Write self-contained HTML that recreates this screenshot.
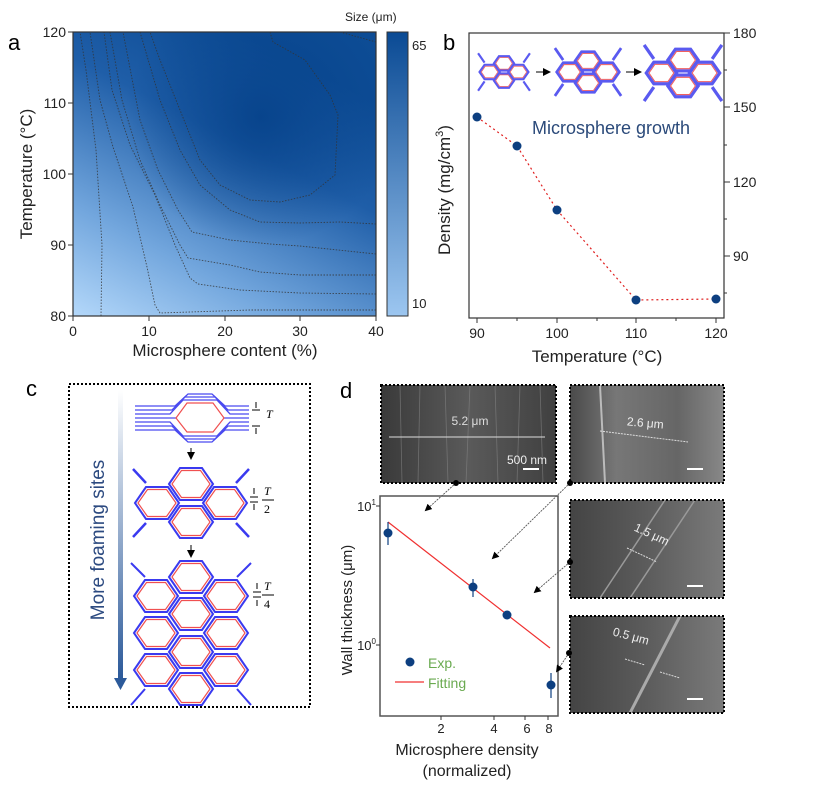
<!DOCTYPE html>
<html><head><meta charset="utf-8"><style>
body{margin:0;background:#fff;}
svg{display:block;font-family:"Liberation Sans",sans-serif;}
</style></head><body>
<svg width="831" height="798" viewBox="0 0 831 798" xmlns="http://www.w3.org/2000/svg">
<defs>
<linearGradient id="bg" x1="0" y1="1" x2="0.55" y2="0">
<stop offset="0" stop-color="#b4d8fa"/><stop offset="0.3" stop-color="#72a6dd"/><stop offset="0.7" stop-color="#1f5ea8"/><stop offset="1" stop-color="#0d4c95"/></linearGradient>
<radialGradient id="dk" cx="0.62" cy="0.3" r="0.45"><stop offset="0" stop-color="#06428a" stop-opacity="0.9"/><stop offset="1" stop-color="#06428a" stop-opacity="0"/></radialGradient>
<linearGradient id="cb" x1="0" y1="1" x2="0" y2="0"><stop offset="0" stop-color="#9cc6f0"/><stop offset="1" stop-color="#0a4a94"/></linearGradient>
<linearGradient id="arr" x1="0" y1="0" x2="0" y2="1"><stop offset="0" stop-color="#fff"/><stop offset="1" stop-color="#2c5a9a"/></linearGradient>
<linearGradient id="sem1" x1="0" y1="0" x2="1" y2="0"><stop offset="0" stop-color="#3a3a3a"/><stop offset="0.5" stop-color="#5a5a5a"/><stop offset="1" stop-color="#404040"/></linearGradient>
<linearGradient id="sem2" x1="0" y1="0" x2="1" y2="0"><stop offset="0" stop-color="#4a4a4a"/><stop offset="0.3" stop-color="#777"/><stop offset="0.7" stop-color="#666"/><stop offset="1" stop-color="#888"/></linearGradient>
<linearGradient id="sem3" x1="0" y1="0" x2="1" y2="0"><stop offset="0" stop-color="#444"/><stop offset="0.5" stop-color="#5c5c5c"/><stop offset="1" stop-color="#7a7a7a"/></linearGradient>
<marker id="ah" markerWidth="8" markerHeight="8" refX="6" refY="4" orient="auto"><path d="M0,0 L8,4 L0,8z" fill="#000"/></marker>
<g id="cell"><path d="M-14,0 L-7,-10 L7,-10 L14,0 L7,10 L-7,10z" fill="none" stroke="#5a5af0" stroke-width="3"/><path d="M-11.5,0 L-6,-8 L6,-8 L11.5,0 L6,8 L-6,8z" fill="none" stroke="#f06060" stroke-width="1"/></g>
<g id="lat"><use href="#cell" x="0" y="-12"/><use href="#cell" x="0" y="12"/><use href="#cell" x="-20" y="0"/><use href="#cell" x="20" y="0"/>
<path d="M-36,-26 L-27,-13 M36,-26 L27,-13 M-36,26 L-27,13 M36,26 L27,13" stroke="#5a5af0" stroke-width="3"/></g>
<g id="cellb"><path d="M-22,0 L-11,-16 L11,-16 L22,0 L11,16 L-11,16z" fill="none" stroke="#3a3af0" stroke-width="2"/><path d="M-19,0 L-9.5,-13.5 L9.5,-13.5 L19,0 L9.5,13.5 L-9.5,13.5z" fill="none" stroke="#f05050" stroke-width="1.2"/></g>
</defs>

<!-- Panel a -->
<text x="8" y="50" font-size="22">a</text>
<rect x="73" y="32" width="303" height="284" fill="url(#bg)"/>
<rect x="73" y="32" width="303" height="284" fill="url(#dk)"/>
<g fill="none" stroke="#333" stroke-width="0.9" stroke-dasharray="1.5,1.5" opacity="0.8">
<path d="M101,316 L102,245 L96,150 L86,70 L80,32"/>
<path d="M376,310 L250,310 L160,313 L155,305 L147,267 L133,207 L113,147 L100,100 L90,32"/>
<path d="M376,294 L300,293 L240,290 L198,284 L190,278 L175,245 L155,195 L130,145 L112,90 L104,32"/>
<path d="M376,275 L300,275 L260,272 L230,265 L188,258 L180,245 L160,205 L140,160 L122,100 L110,32"/>
<path d="M376,254 L300,246 L270,244 L230,240 L192,232 L178,210 L158,170 L140,120 L123,32"/>
<path d="M376,224 L340,222 L300,223 L260,222 L230,210 L200,185 L180,150 L160,100 L140,32"/>
<path d="M270,32 L273,42 L305,60 L330,95 L338,115 L335,175 L310,195 L280,202 L250,200 L220,185 L200,160 L180,110 L160,60 L150,32"/>
<path d="M340,32 L376,42"/>
</g>
<rect x="73" y="32" width="303" height="284" fill="none" stroke="#333" stroke-width="1.2"/>
<g stroke="#333" stroke-width="1">
<line x1="73" y1="316" x2="73" y2="321"/><line x1="149" y1="316" x2="149" y2="321"/><line x1="225" y1="316" x2="225" y2="321"/><line x1="300" y1="316" x2="300" y2="321"/><line x1="376" y1="316" x2="376" y2="321"/>
<line x1="68" y1="32" x2="73" y2="32"/><line x1="68" y1="103" x2="73" y2="103"/><line x1="68" y1="174" x2="73" y2="174"/><line x1="68" y1="245" x2="73" y2="245"/><line x1="68" y1="316" x2="73" y2="316"/>
</g>
<g font-size="14" fill="#222">
<text x="73" y="336" text-anchor="middle">0</text><text x="149" y="336" text-anchor="middle">10</text><text x="225" y="336" text-anchor="middle">20</text><text x="300" y="336" text-anchor="middle">30</text><text x="376" y="336" text-anchor="middle">40</text>
<text x="66" y="37" text-anchor="end">120</text><text x="66" y="108" text-anchor="end">110</text><text x="66" y="179" text-anchor="end">100</text><text x="66" y="250" text-anchor="end">90</text><text x="66" y="321" text-anchor="end">80</text>
</g>
<text x="225" y="356" font-size="17" text-anchor="middle" fill="#222">Microsphere content (%)</text>
<text transform="translate(32,174) rotate(-90)" font-size="17" text-anchor="middle" fill="#222">Temperature (°C)</text>
<rect x="387" y="32" width="21" height="284" fill="url(#cb)" stroke="#333" stroke-width="1"/>
<text x="412" y="50" font-size="13" fill="#222">65</text>
<text x="412" y="308" font-size="13" fill="#222">10</text>
<text x="345" y="21" font-size="12" fill="#222">Size (μm)</text>

<!-- Panel b -->
<text x="443" y="50" font-size="22">b</text>
<rect x="469" y="33" width="255" height="285" fill="none" stroke="#333" stroke-width="1.2"/>
<g stroke="#333" stroke-width="1">
<line x1="724" y1="33" x2="730" y2="33"/><line x1="724" y1="107" x2="730" y2="107"/><line x1="724" y1="182" x2="730" y2="182"/><line x1="724" y1="256" x2="730" y2="256"/>
<line x1="724" y1="70" x2="727" y2="70"/><line x1="724" y1="145" x2="727" y2="145"/><line x1="724" y1="219" x2="727" y2="219"/><line x1="724" y1="293" x2="727" y2="293"/>
<line x1="477" y1="318" x2="477" y2="323"/><line x1="557" y1="318" x2="557" y2="323"/><line x1="636" y1="318" x2="636" y2="323"/><line x1="716" y1="318" x2="716" y2="323"/>
<line x1="517" y1="318" x2="517" y2="321"/><line x1="597" y1="318" x2="597" y2="321"/><line x1="676" y1="318" x2="676" y2="321"/>
</g>
<g font-size="14" fill="#222">
<text x="733" y="38">180</text><text x="733" y="112">150</text><text x="733" y="187">120</text><text x="733" y="261">90</text>
<text x="477" y="338" text-anchor="middle">90</text><text x="557" y="338" text-anchor="middle">100</text><text x="636" y="338" text-anchor="middle">110</text><text x="716" y="338" text-anchor="middle">120</text>
</g>
<text x="597" y="362" font-size="17" text-anchor="middle" fill="#222">Temperature (°C)</text>
<text transform="translate(450,190) rotate(-90)" font-size="17" text-anchor="middle" fill="#222">Density (mg/cm<tspan font-size="11" dy="-7">3</tspan><tspan dy="7">)</tspan></text>
<polyline points="477,117 517,146 557,210 636,300 716,299" fill="none" stroke="#e02020" stroke-width="1.2" stroke-dasharray="2,3"/>
<g fill="#0d3f80"><circle cx="477" cy="117" r="4.5"/><circle cx="517" cy="146" r="4.5"/><circle cx="557" cy="210" r="4.5"/><circle cx="636" cy="300" r="4.5"/><circle cx="716" cy="299" r="4.5"/></g>
<text x="532" y="134" font-size="18" fill="#2b4a7a">Microsphere growth</text>
<g transform="translate(504,72) scale(0.72)"><use href="#lat"/></g>
<line x1="536" y1="72" x2="549" y2="72" stroke="#000" marker-end="url(#ah)"/>
<g transform="translate(588,72) scale(0.92)"><use href="#lat"/></g>
<line x1="626" y1="72" x2="640" y2="72" stroke="#000" marker-end="url(#ah)"/>
<g transform="translate(683,73) scale(1.08)"><use href="#lat"/></g>

<!-- Panel c -->
<text x="26" y="396" font-size="22">c</text>
<rect x="69" y="384" width="241" height="323" fill="none" stroke="#000" stroke-width="2" stroke-dasharray="2,2"/>
<rect x="118" y="390" width="5" height="288" fill="url(#arr)"/>
<path d="M114,678 L127,678 L120.5,690z" fill="#2c5a9a"/>
<text transform="translate(104,540) rotate(-90)" font-size="19" text-anchor="middle" fill="#2c4a80">More foaming sites</text>
<g stroke="#4a4af0" stroke-width="1.3" fill="none">
<path d="M135,406 L175,406 L188,394 L212,394 L225,406 L249,406"/>
<path d="M135,410 L172,410 L185,397 L215,397 L228,410 L249,410"/>
<path d="M135,414 L170,414 L183,400 L217,400 L230,414 L249,414"/>
<path d="M135,418 L249,418"/>
<path d="M135,422 L170,422 L183,436 L217,436 L230,422 L249,422"/>
<path d="M135,426 L172,426 L185,439 L215,439 L228,426 L249,426"/>
<path d="M135,430 L175,430 L188,442 L212,442 L225,430 L249,430"/>
</g>
<path d="M176,418 L187,403 L213,403 L224,418 L213,432 L187,432z" fill="#fff" stroke="#f05050" stroke-width="1.2"/>
<text x="266" y="418" font-family="Liberation Serif" font-style="italic" font-size="12">T</text>
<path d="M256,402 v6 M256,434 v-6 M252,410 h8 M252,426 h8" stroke="#000"/>
<line x1="191" y1="448" x2="191" y2="458" stroke="#000" marker-end="url(#ah)"/>
<g transform="translate(191,503)"><use href="#cellb" x="0" y="-19"/><use href="#cellb" x="0" y="19"/><use href="#cellb" x="-34" y="0"/><use href="#cellb" x="34" y="0"/>
<path d="M-58,-34 L-45,-20 M58,-34 L45,-20 M-58,34 L-45,20 M58,34 L45,20" stroke="#3a3af0" stroke-width="2.5"/></g>
<text x="264" y="495" font-family="Liberation Serif" font-style="italic" font-size="12">T</text><line x1="262" y1="500" x2="274" y2="500" stroke="#000"/><text x="264" y="513" font-family="Liberation Serif" font-size="12">2</text>
<path d="M254,488 v6 M254,510 v-6 M250,497 h8 M250,502 h8" stroke="#000"/>
<line x1="191" y1="545" x2="191" y2="556" stroke="#000" marker-end="url(#ah)"/>
<g transform="translate(191,633)">
<use href="#cellb" x="0" y="-56"/><use href="#cellb" x="0" y="-19"/><use href="#cellb" x="0" y="19"/><use href="#cellb" x="0" y="56"/>
<use href="#cellb" x="-35" y="-37"/><use href="#cellb" x="35" y="-37"/><use href="#cellb" x="-35" y="0"/><use href="#cellb" x="35" y="0"/><use href="#cellb" x="-35" y="37"/><use href="#cellb" x="35" y="37"/>
<path d="M-60,-70 L-46,-56 M60,-70 L46,-56 M-60,72 L-46,56 M60,72 L46,56" stroke="#3a3af0" stroke-width="2"/></g>
<text x="264" y="590" font-family="Liberation Serif" font-style="italic" font-size="12">T</text><line x1="262" y1="595" x2="274" y2="595" stroke="#000"/><text x="264" y="608" font-family="Liberation Serif" font-size="12">4</text>
<path d="M257,583 v6 M257,606 v-6 M253,592 h8 M253,597 h8" stroke="#000"/>

<!-- Panel d -->
<text x="340" y="398" font-size="22">d</text>
<rect x="381" y="385" width="175" height="98" fill="url(#sem1)"/>
<g stroke="#888" stroke-width="0.8" opacity="0.6"><path d="M400,385 L402,483 M420,385 L418,483 M445,385 L448,483 M470,385 L466,483 M495,385 L498,483 M520,385 L517,483 M540,385 L543,483"/></g>
<rect x="381" y="385" width="175" height="98" fill="none" stroke="#000" stroke-width="2" stroke-dasharray="2,2"/>
<line x1="389" y1="437" x2="545" y2="437" stroke="#ddd" stroke-width="1"/>
<text x="470" y="425" font-size="12" fill="#ddd" text-anchor="middle">5.2 μm</text>
<text x="507" y="464" font-size="12" fill="#eee">500 nm</text>
<rect x="523" y="468" width="16" height="2" fill="#fff"/>

<rect x="570" y="385" width="154" height="98" fill="url(#sem2)"/>
<path d="M600,385 L605,483" stroke="#bbb" stroke-width="2" fill="none"/>
<rect x="570" y="385" width="154" height="98" fill="none" stroke="#000" stroke-width="2" stroke-dasharray="2,2"/>
<line x1="600" y1="431" x2="688" y2="442" stroke="#ddd" stroke-dasharray="2,1"/>
<text x="645" y="427" font-size="12" fill="#eee" text-anchor="middle" transform="rotate(5,645,427)">2.6 μm</text>
<rect x="687" y="468" width="16" height="2" fill="#fff"/>

<rect x="570" y="500" width="154" height="98" fill="url(#sem3)"/>
<path d="M600,598 L665,500 M630,598 L695,500" stroke="#999" stroke-width="1.5" fill="none"/>
<rect x="570" y="500" width="154" height="98" fill="none" stroke="#000" stroke-width="2" stroke-dasharray="2,2"/>
<line x1="627" y1="548" x2="657" y2="562" stroke="#ddd" stroke-dasharray="2,1"/>
<text x="650" y="538" font-size="12" fill="#eee" text-anchor="middle" transform="rotate(25,650,538)">1.5 μm</text>
<rect x="687" y="585" width="16" height="2" fill="#fff"/>

<rect x="570" y="616" width="154" height="97" fill="url(#sem3)"/>
<path d="M630,713 L680,616" stroke="#aaa" stroke-width="3" fill="none"/>
<rect x="570" y="616" width="154" height="97" fill="none" stroke="#000" stroke-width="2" stroke-dasharray="2,2"/>
<text x="630" y="640" font-size="12" fill="#eee" text-anchor="middle" transform="rotate(15,630,640)">0.5 μm</text>
<line x1="625" y1="659" x2="645" y2="665" stroke="#ddd" stroke-dasharray="2,1"/>
<line x1="660" y1="672" x2="680" y2="678" stroke="#ddd" stroke-dasharray="2,1"/>
<rect x="687" y="698" width="16" height="2" fill="#fff"/>

<rect x="380" y="496" width="178" height="220" fill="#fff" stroke="#555" stroke-width="1.5"/>
<g stroke="#333" stroke-width="1">
<line x1="380" y1="506" x2="376" y2="506"/><line x1="380" y1="645" x2="376" y2="645"/>
<line x1="441" y1="716" x2="441" y2="720"/><line x1="494" y1="716" x2="494" y2="720"/><line x1="525" y1="716" x2="525" y2="720"/><line x1="548" y1="716" x2="548" y2="720"/>
</g>
<g font-size="13" fill="#222">
<text x="376" y="511" text-anchor="end">10<tspan font-size="8" dy="-6">1</tspan></text>
<text x="376" y="650" text-anchor="end">10<tspan font-size="8" dy="-6">0</tspan></text>
<text x="441" y="733" text-anchor="middle">2</text><text x="494" y="733" text-anchor="middle">4</text><text x="527" y="733" text-anchor="middle">6</text><text x="549" y="733" text-anchor="middle">8</text>
</g>
<text transform="translate(352,610) rotate(-90)" font-size="15" text-anchor="middle" fill="#222">Wall thickness (μm)</text>
<text x="467" y="755" font-size="16" text-anchor="middle" fill="#222">Microsphere density</text>
<text x="467" y="776" font-size="16" text-anchor="middle" fill="#222">(normalized)</text>
<line x1="388" y1="522" x2="550" y2="648" stroke="#f03030" stroke-width="1.2"/>
<g stroke="#0d3f80" stroke-width="1.2"><line x1="388" y1="522" x2="388" y2="545"/><line x1="473" y1="579" x2="473" y2="597"/><line x1="551" y1="673" x2="551" y2="698"/></g>
<g fill="#0d3f80"><circle cx="388" cy="533" r="4.5"/><circle cx="473" cy="587" r="4.5"/><circle cx="507" cy="615" r="4.5"/><circle cx="551" cy="685" r="4.5"/><circle cx="410" cy="662" r="4.5"/></g>
<line x1="395" y1="682" x2="424" y2="682" stroke="#f03030" stroke-width="1.2"/>
<text x="428" y="668" font-size="14" fill="#6aaa50">Exp.</text>
<text x="428" y="688" font-size="14" fill="#6aaa50">Fitting</text>

<g stroke="#555" stroke-width="0.9" stroke-dasharray="2,1" fill="none">
<line x1="456" y1="483" x2="426" y2="510" marker-end="url(#ah)"/>
<line x1="570" y1="483" x2="493" y2="558" marker-end="url(#ah)"/>
<line x1="570" y1="562" x2="535" y2="592" marker-end="url(#ah)"/>
<line x1="569" y1="653" x2="557" y2="671" marker-end="url(#ah)"/>
</g>
<g fill="#000"><circle cx="456" cy="483" r="3"/><circle cx="570" cy="483" r="3"/><circle cx="570" cy="562" r="3"/><circle cx="569" cy="653" r="3"/></g>
</svg>
</body></html>
